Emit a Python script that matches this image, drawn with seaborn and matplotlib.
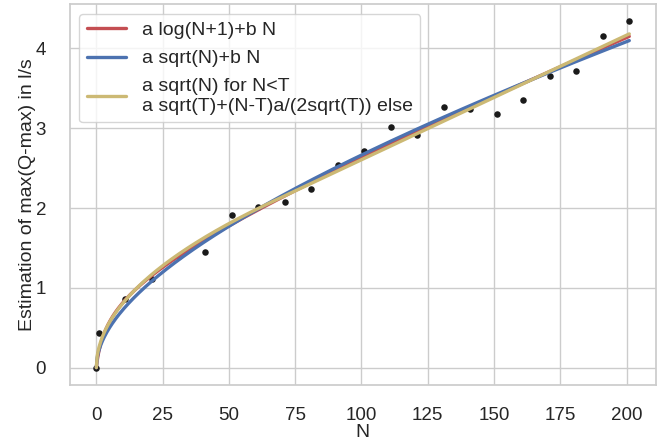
import numpy as np
import pandas as pd
import matplotlib
matplotlib.use("Agg")
import matplotlib.pyplot as plt
import seaborn as sns

# Measured maxima per sample count
n_values = [0, 1, 11, 21, 31, 41, 51, 61, 71, 81, 91, 101, 111, 121, 131,
            141, 151, 161, 171, 181, 191, 201]
q_values = [0.00, 0.44, 0.86, 1.11, 1.40, 1.455, 1.915, 2.01, 2.07, 2.24,
            2.545, 2.71, 3.02, 2.92, 3.26, 3.24, 3.18, 3.35, 3.66, 3.72,
            4.15, 4.34]

labels = ["a log(N+1)+b N",
          "a sqrt(N)+b N",
          "a sqrt(N) for N<T\na sqrt(T)+(N-T)a/(2sqrt(T)) else"]

sns.set_theme(style="whitegrid")
sns.set_color_codes("deep")
plt.rcParams["font.family"] = ["Liberation Sans", "DejaVu Sans"]

df = pd.DataFrame({"N": n_values, "Q": q_values})
N = df["N"].to_numpy(float)
Q = df["Q"].to_numpy(float)

# least-squares fits of the three models
A1 = np.column_stack([np.log(N + 1), N])
c1 = np.linalg.lstsq(A1, Q, rcond=None)[0]
A2 = np.column_stack([np.sqrt(N), N])
c2 = np.linalg.lstsq(A2, Q, rcond=None)[0]


def piecewise(n, T):
    n = np.asarray(n, float)
    return np.where(n < T, np.sqrt(n),
                    np.sqrt(T) + (n - T) / (2 * np.sqrt(T)))


best = None
for T in np.linspace(5, 200, 1951):
    g = piecewise(N, T)
    a = (g @ Q) / (g @ g)
    err = np.sum((a * g - Q) ** 2)
    if best is None or err < best[0]:
        best = (err, a, T)
_, a3, T3 = best

grid = np.linspace(0, N.max(), 600)
curves = pd.DataFrame({
    "N": grid,
    "log": c1[0] * np.log(grid + 1) + c1[1] * grid,
    "sqrt": c2[0] * np.sqrt(grid) + c2[1] * grid,
    "pw": a3 * piecewise(grid, T3),
})

fig, ax = plt.subplots(figsize=(6.7, 4.45), dpi=100)
fig.subplots_adjust(left=0.104, right=0.979, top=0.991, bottom=0.135)

sns.scatterplot(data=df, x="N", y="Q", color="k", s=22, linewidth=0,
                ax=ax, zorder=2)
sns.lineplot(data=curves, x="N", y="log", color="r", lw=2.4, ax=ax,
             label=labels[0], zorder=3)
sns.lineplot(data=curves, x="N", y="sqrt", color="b", lw=2.4, ax=ax,
             label=labels[1], zorder=3)
sns.lineplot(data=curves, x="N", y="pw", color="y", lw=2.4, ax=ax,
             label=labels[2], zorder=3)

ax.set_xticks([0, 25, 50, 75, 100, 125, 150, 175, 200])
ax.set_yticks([0, 1, 2, 3, 4])
ax.tick_params(axis="y", labelsize=13.5, pad=11)
ax.tick_params(axis="x", labelsize=13.5, pad=10)
ax.set_xlabel("N", fontsize=14, labelpad=0)
ax.set_ylabel("Estimation of max(Q-max) in l/s", fontsize=14, labelpad=0)
ax.legend(loc="upper left", fontsize=14, handlelength=2.0,
          labelspacing=0.55, borderaxespad=0.5)

fig.savefig("out.png", dpi=100)
